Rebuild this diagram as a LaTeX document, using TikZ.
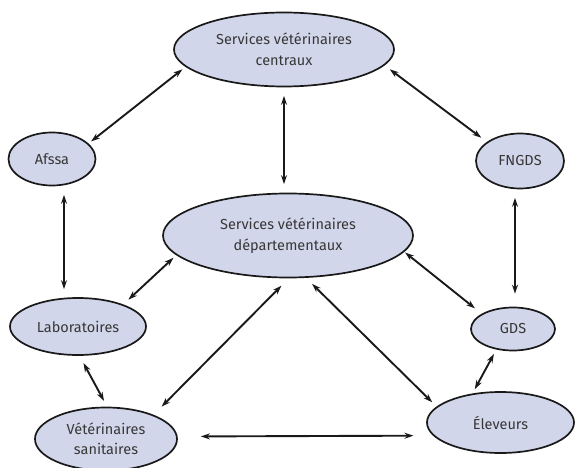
\documentclass[tikz,border=0pt]{standalone}
\usepackage{fontspec}
\setmainfont{Fira Sans}
\usetikzlibrary{shapes.geometric,arrows.meta}
\definecolor{nodefill}{RGB}{210,214,234}
\definecolor{txt}{RGB}{55,55,55}
\definecolor{ln}{RGB}{25,25,25}
\begin{document}
\begin{tikzpicture}[x=1pt,y=-1pt,
  ell/.style={ellipse,draw=ln,line width=1.7pt,fill=nodefill,inner sep=0pt,
    text=txt,align=center,font=\fontsize{14.5}{20.5}\selectfont},
  arr/.style={draw=ln,line width=1.9pt,{Stealth[length=9pt,width=6pt]}-{Stealth[length=9pt,width=6pt]}}]
\useasboundingbox (0,0) rectangle (576,468);
\node[ell,minimum width=220pt,minimum height=74pt] (svc) at (284,49.5) {Services vétérinaires\\centraux};
\node[ell,minimum width=87pt,minimum height=53pt] (afssa) at (52,159) {Afssa};
\node[ell,minimum width=88pt,minimum height=55pt] (fngds) at (520,161) {FNGDS};
\node[ell,minimum width=250pt,minimum height=84pt] (svd) at (288,235.5) {Services vétérinaires\\départementaux};
\node[ell,minimum width=136pt,minimum height=57pt] (labo) at (78,326.5) {Laboratoires};
\node[ell,minimum width=142pt,minimum height=63pt] (vs) at (106,439) {Vétérinaires\\sanitaires};
\node[ell,minimum width=84pt,minimum height=43pt] (gds) at (513,329) {GDS};
\node[ell,minimum width=147pt,minimum height=61pt] (el) at (500.5,422.5) {Éleveurs};

\draw[arr,shorten <=4pt,shorten >=3.3pt] (svc.190.7) -- (afssa.23.4);
\draw[arr,shorten <=6.5pt,shorten >=7pt] (svc.351.6) -- (fngds.150.6);
\draw[arr,shorten <=8.5pt,shorten >=8.5pt] (svc.south) -- ([xshift=-4pt]svd.north);
\draw[arr,shorten <=8.5pt,shorten >=8pt] ([xshift=12pt]afssa.south) -- ([xshift=-14pt]labo.north);
\draw[arr,shorten <=8.5pt,shorten >=13pt] ([xshift=-5pt]fngds.south) -- ([xshift=2pt]gds.north);
\draw[arr,shorten <=3.8pt,shorten >=7pt] (svd.190.3) -- (labo.26.8);
\draw[arr,shorten <=1pt,shorten >=8.6pt] (svd.352.1) -- (gds.154.1);
\draw[arr,shorten <=8.2pt,shorten >=6.5pt] (labo.273) -- (vs.88.2);
\draw[arr,shorten <=10.3pt,shorten >=11.4pt] (svd.271.8) -- (vs.27.5);
\draw[arr,shorten <=8.5pt,shorten >=6pt] (svd.293.4) -- (el.166.5);
\draw[arr,shorten <=5pt,shorten >=4.9pt] (gds.231.9) -- (el.134.6);
\draw[arr,shorten <=23.3pt,shorten >=19.6pt] (vs.2.4) -- (el.191.6);
\end{tikzpicture}
\end{document}
